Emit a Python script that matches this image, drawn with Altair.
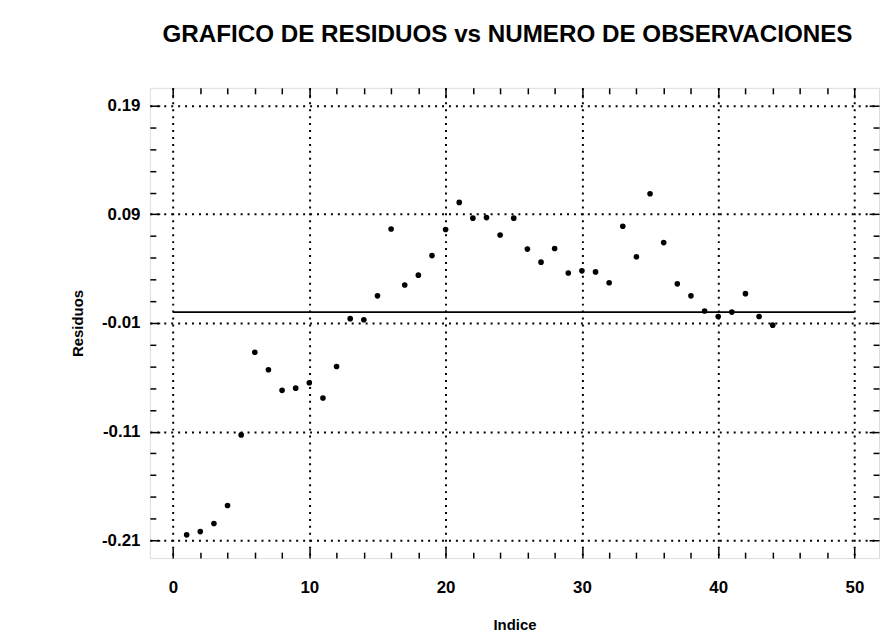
import altair as alt
import pandas as pd

# ---- data ----
indice = list(range(1, 45))
residuos = [-0.205, -0.202, -0.1945, -0.178, -0.113, -0.037, -0.053, -0.072, -0.070, -0.065,
            -0.079, -0.050, -0.006, -0.007, 0.015, 0.0765, 0.025, 0.034, 0.052, 0.076,
            0.101, 0.0865, 0.087, 0.071, 0.0865, 0.058, 0.046, 0.0585, 0.036, 0.038,
            0.037, 0.027, 0.079, 0.051, 0.109, 0.064, 0.026, 0.015, 0.001, -0.004,
            0.000, 0.017, -0.004, -0.012]

x_major = [0, 10, 20, 30, 40, 50]
x_minor = [2, 4, 6, 8, 12, 14, 16, 18, 22, 24, 26, 28, 32, 34, 36, 38, 42, 44, 46, 48]
y_major = [0.19, 0.09, -0.01, -0.11, -0.21]
y_minor = [0.17, 0.15, 0.13, 0.11, 0.07, 0.05, 0.03, 0.01, -0.03, -0.05,
           -0.07, -0.09, -0.13, -0.15, -0.17, -0.19]
x_domain = [-1.7, 51.8]
y_domain = [-0.2264, 0.2064]
ref_x = [0, 50]
ref_y = [0.0, 0.0]

title_text = "GRAFICO DE RESIDUOS vs NUMERO DE OBSERVACIONES"
x_title = "Indice"
y_title = "Residuos"

df = pd.DataFrame({"Indice": indice, "Residuos": residuos})
ref = pd.DataFrame({"x": ref_x, "y": ref_y})

FONT = "Liberation Sans"
W, H = 735, 474
MAJ, MIN = 10, 6

xs = alt.Scale(domain=x_domain, nice=False, zero=False)
ys = alt.Scale(domain=y_domain, nice=False, zero=False)

ylabel = "replace(format(datum.value, '.2f'), '\u2212', '-')"

common_tick = dict(domain=False, tickColor="black", tickWidth=1.5, grid=False)

# grid-only axes
grid_x = alt.Axis(orient="bottom", values=x_major, grid=True, gridDash=[2, 5], gridWidth=2,
                  gridColor="black", gridOpacity=1, ticks=False, labels=False, domain=False, title=None)
grid_y = alt.Axis(orient="left", values=y_major, grid=True, gridDash=[2, 5], gridWidth=2,
                  gridColor="black", gridOpacity=1, ticks=False, labels=False, domain=False, title=None)

# main labelled axes with inward ticks
main_x = alt.Axis(orient="bottom", values=x_major, offset=-MAJ, tickSize=MAJ, format="d",
                  labelFont=FONT, labelFontSize=17, labelFontWeight="bold", labelColor="black",
                  labelPadding=22, title=x_title, titleFont=FONT, titleFontSize=15,
                  titleFontWeight="bold", titleColor="black", titleX=W / 2, titleY=77,
                  titleAlign="center", titleBaseline="middle", **common_tick)
main_y = alt.Axis(orient="left", values=y_major, offset=-MAJ, tickSize=MAJ, labelExpr=ylabel,
                  labelFont=FONT, labelFontSize=17, labelFontWeight="bold", labelColor="black",
                  labelPadding=10, title=y_title, titleFont=FONT, titleFontSize=15,
                  titleFontWeight="bold", titleColor="black", titleX=-83, titleY=H / 2,
                  titleAngle=270, titleAlign="center", titleBaseline="middle", **common_tick)


def tick_axis(orient, vals, size):
    return alt.Axis(orient=orient, values=vals, offset=-size, tickSize=size, labels=False,
                    title=None, **common_tick)


def layer(xaxis, yaxis, visible=False):
    m = alt.Chart(df).mark_circle(size=32, color="black", opacity=1 if visible else 0)
    return m.encode(
        x=alt.X("Indice:Q", scale=xs, axis=xaxis),
        y=alt.Y("Residuos:Q", scale=ys, axis=yaxis),
    )


zero_line = alt.Chart(ref).mark_line(color="black", strokeWidth=2).encode(
    x=alt.X("x:Q", scale=xs, axis=None),
    y=alt.Y("y:Q", scale=ys, axis=None),
)

chart = alt.layer(
    layer(grid_x, grid_y),
    layer(tick_axis("bottom", x_minor, MIN), tick_axis("left", y_minor, MIN)),
    layer(tick_axis("top", x_major, MAJ), tick_axis("right", y_major, MAJ)),
    layer(tick_axis("top", x_minor, MIN), tick_axis("right", y_minor, MIN)),
    zero_line,
    layer(main_x, main_y, visible=True),
).resolve_axis(x="independent", y="independent").properties(
    width=W,
    height=H,
    title=alt.Title(title_text, font=FONT, fontSize=24.4, fontWeight="bold", color="black",
                    anchor="middle", dx=-7, offset=21, baseline="alphabetic"),
    autosize=alt.AutoSizeParams(type="none"),
    padding={"left": 143, "top": 78, "right": 2, "bottom": 74},
).configure_view(stroke="black", strokeWidth=2.5).configure(background="white")

chart.save("out.html", embed_options={"renderer": "svg", "actions": False})
